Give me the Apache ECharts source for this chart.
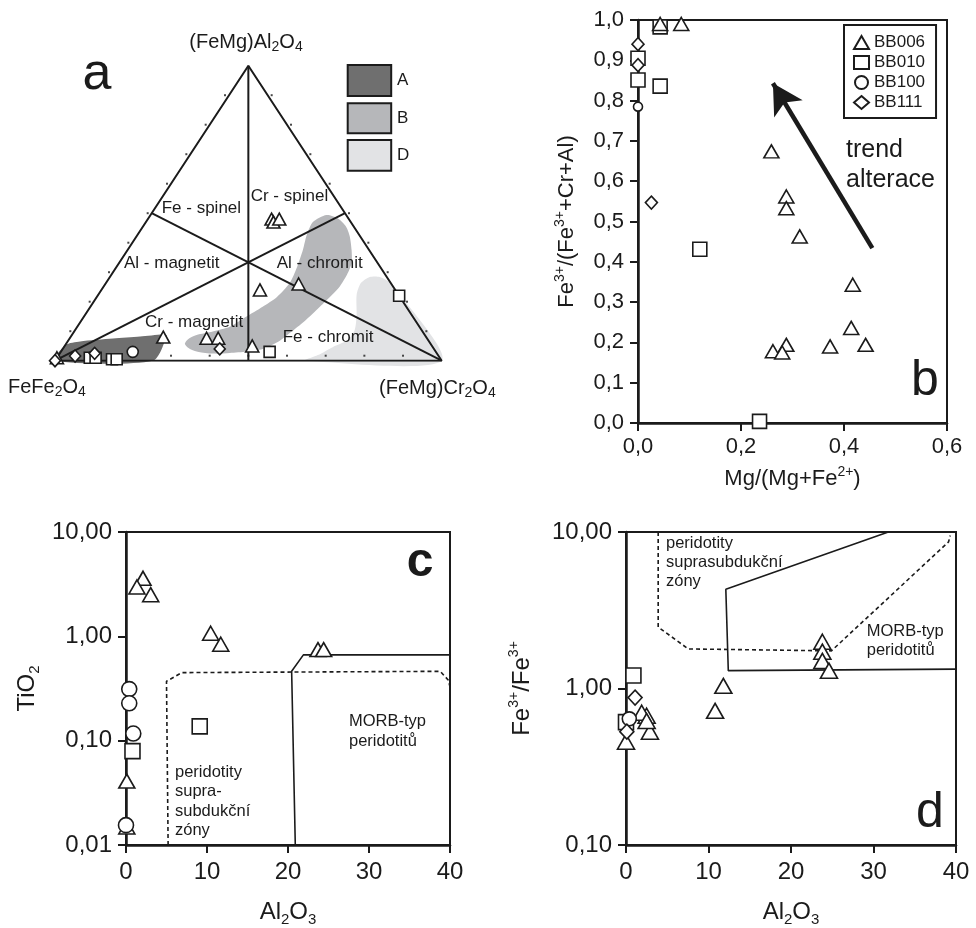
<!DOCTYPE html>
<html><head><meta charset="utf-8">
<script src="https://cdn.jsdelivr.net/npm/echarts/dist/echarts.min.js"></script>
<style>html,body{margin:0;padding:0;background:#fff}#chart{width:976px;height:928px}</style>
</head><body><div id="chart"></div>
<script>
const FONT = '"Liberation Sans", Arial, Helvetica, sans-serif';
const INK = '#1b1b1b';

// ---------- Panel a: ternary compositions [Al, Cr, Fe3+] ----------
const aBB006 = [[0.48,0.32,0.20],[0.47,0.33,0.20],[0.48,0.34,0.18],[0.24,0.41,0.35],[0.26,0.50,0.24],[0.08,0.24,0.68],[0.076,0.354,0.57],[0.076,0.384,0.54],[0.05,0.485,0.465],[0.01,0,0.99]];
const aBB010 = [[0.22,0.78,0],[0.03,0.54,0.43],[0.01,0.085,0.905],[0.01,0.10,0.89],[0.005,0.145,0.85],[0.005,0.157,0.838]];
const aBB100 = [[0.03,0.186,0.784]];
const aBB111 = [[0.016,0.044,0.94],[0.025,0.09,0.885],[0.04,0.406,0.554],[0,0,1]];
// field outlines in the triangle frame (x along base, y = Al)
const regionA = [[0,0],[0.027,0.053],[0.065,0.065],[0.150,0.075],[0.220,0.082],[0.279,0.089],[0.289,0.085],[0.253,0]];
const regionB = [[0.702,0.494],[0.667,0.470],[0.651,0.426],[0.641,0.375],[0.625,0.314],[0.607,0.263],[0.574,0.216],[0.537,0.183],[0.493,0.148],[0.452,0.115],[0.408,0.099],[0.366,0.087],[0.344,0.073],[0.336,0.057],[0.349,0.040],[0.375,0.029],[0.413,0.024],[0.452,0.026],[0.496,0.031],[0.537,0.040],[0.576,0.063],[0.607,0.094],[0.646,0.135],[0.685,0.183],[0.716,0.223],[0.736,0.251],[0.755,0.291],[0.767,0.331],[0.767,0.375],[0.762,0.423],[0.752,0.456],[0.731,0.483]];
const regionD = [[0.646,0],[0.680,0.019],[0.718,0.046],[0.757,0.070],[0.775,0.104],[0.780,0.155],[0.780,0.223],[0.791,0.263],[0.814,0.284],[0.840,0.284],[0.867,0.263],[1,0]];
const regionNames = ['A','B','D'];
const regionColors = ['#6f6f6f','#b6b7ba','#e2e3e5'];

// ---------- Panel b: Mg/(Mg+Fe2+) vs Fe3+/(Fe3+ + Cr + Al) ----------
const bBB006x = [0.043,0.084,0.259,0.288,0.288,0.314,0.417,0.414,0.442,0.373,0.288,0.262,0.280];
const bBB006y = [0.99,0.99,0.674,0.562,0.533,0.463,0.343,0.236,0.194,0.19,0.194,0.178,0.175];
const bBB010x = [0.043,0,0,0.043,0.12,0.236];
const bBB010y = [0.983,0.905,0.851,0.836,0.431,0.004];
const bBB100x = [0];
const bBB100y = [0.785];
const bBB111x = [0,0,0.026];
const bBB111y = [0.94,0.888,0.547];
const trendArrow = [[0.455,0.434],[0.262,0.843]];

// ---------- Panel c: Al2O3 vs TiO2 ----------
const cBB006x = [2.1,1.35,3.05,10.45,11.7,23.7,24.4,0.1,0.1];
const cBB006y = [3.6,2.97,2.51,1.07,0.84,0.746,0.746,0.041,0.0149];
const cBB010x = [0.8,9.1];
const cBB010y = [0.0794,0.137];
const cBB100x = [0.4,0.4,0.9,0];
const cBB100y = [0.312,0.228,0.117,0.0155];
const cSSZ = [[5.2,0.01],[5.0,0.371],[6.9,0.449],[38.8,0.462],[39.8,0.38],[40,0.328]];
const cMORB = [[20.9,0.01],[20.45,0.462],[21.9,0.664],[40,0.664]];

// ---------- Panel d: Al2O3 vs Fe3+/Fe3+ ----------
const dBB006x = [23.8,23.8,23.8,24.6,11.8,10.8,2.5,2.9,1.9,0,2.5];
const dBB006y = [1.99,1.72,1.5,1.30,1.04,0.72,0.67,0.53,0.70,0.457,0.62];
const dBB010x = [0.9,0];
const dBB010y = [1.21,0.61];
const dBB100x = [0.4];
const dBB100y = [0.64];
const dBB111x = [1.1,0.1];
const dBB111y = [0.875,0.53];
const dSSZ = [[3.9,10],[3.9,2.47],[7.55,1.79],[24.9,1.74],[39.1,8.65],[39.3,9.5]];
const dMORB = [[31.8,10],[12.1,4.3],[12.4,1.30],[40,1.33]];

const samples = ['BB006','BB010','BB100','BB111'];
const symbols = {BB006:'triangle', BB010:'rect', BB100:'circle', BB111:'diamond'};
const sizes = [
  {BB006:[13,12], BB010:[11,11], BB100:11, BB111:[11,12]},
  {BB006:[15,13], BB010:[14,14], BB100:9, BB111:[12,13]},
  {BB006:[16,14], BB010:[15,15], BB100:15, BB111:[14,15]},
  {BB006:[17,15], BB010:[15,15], BB100:14, BB111:[14,15]}
];

function tern(p){ const s=p[0]+p[1]+p[2]; const al=p[0]/s, cr=p[1]/s; return [cr+al/2, al]; }
function zip(xs, ys){ return xs.map((x,i)=>[x, ys[i]]); }

function scatter(name, g, data){
  return {type:'scatter', name, xAxisIndex:g, yAxisIndex:g, data, symbol:symbols[name],
    symbolSize:sizes[g][name], clip:false, silent:true, z:5,
    itemStyle:{color:'#fff', borderColor:INK, borderWidth:1.6, opacity:1}};
}
function segment(g, data, width, type){
  return {type:'line', xAxisIndex:g, yAxisIndex:g, data, symbol:'none', silent:true, z:3,
    lineStyle:{color:INK, width, type: type||'solid'}};
}

const series = [];
// shaded fields
series.push({type:'custom', xAxisIndex:0, yAxisIndex:0, silent:true, z:1, data:[0,1,2],
  renderItem:(params, api)=>{
    const i = params.dataIndex;
    const pts = [regionA, regionB, regionD][i].map(p=>api.coord(p));
    return {type:'polygon', shape:{points:pts, smooth:0.25}, style:{fill:regionColors[i], stroke:null}};
  }});
// triangle outline and field boundaries
const V_AL=[1,0,0], V_CR=[0,1,0], V_FE=[0,0,1];
series.push(segment(0, [tern(V_FE), tern(V_CR), tern(V_AL), tern(V_FE)], 2));
series.push(segment(0, [tern(V_AL), tern([0,0.5,0.5])], 2));
series.push(segment(0, [tern(V_FE), tern([0.5,0.5,0])], 2));
series.push(segment(0, [tern(V_CR), tern([0.5,0,0.5])], 2));
// tick marks along triangle sides
const tickFr = [0.1,0.2,0.3,0.4,0.5,0.6,0.7,0.8,0.9];
[[t=>[t,0,1-t],[-4,0]],[t=>[0,t,1-t],[0,-5]],[t=>[t,1-t,0],[4,0]]].forEach(([f,off])=>{
  series.push({type:'scatter', xAxisIndex:0, yAxisIndex:0, silent:true, z:2, clip:false,
    data: tickFr.map(t=>tern(f(t))), symbol:'rect', symbolSize:[2,2], symbolOffset:off,
    itemStyle:{color:INK}});
});
// ternary points
series.push(scatter('BB006',0,aBB006.map(tern)));
series.push(scatter('BB010',0,aBB010.map(tern)));
series.push(scatter('BB100',0,aBB100.map(tern)));
series.push(scatter('BB111',0,aBB111.map(tern)));

// panel b
series.push(scatter('BB010',1,zip(bBB010x,bBB010y)));
series.push(scatter('BB100',1,zip(bBB100x,bBB100y)));
series.push(scatter('BB111',1,zip(bBB111x,bBB111y)));
const bTri = scatter('BB006',1,zip(bBB006x,bBB006y));
bTri.markLine = {silent:true, symbol:['none','arrow'], symbolSize:[25,30], animation:false,
  label:{show:false}, lineStyle:{color:INK, width:4.5, type:'solid'},
  data:[[{coord:trendArrow[0]},{coord:trendArrow[1]}]]};
series.push(bTri);

// panel c
series.push(segment(2, cSSZ, 1.6, [4,3]));
series.push(segment(2, cMORB, 1.6));
series.push(scatter('BB006',2,zip(cBB006x,cBB006y)));
series.push(scatter('BB010',2,zip(cBB010x,cBB010y)));
series.push(scatter('BB100',2,zip(cBB100x,cBB100y)));

// panel d
series.push(segment(3, dSSZ, 1.6, [4,3]));
series.push(segment(3, dMORB, 1.6));
series.push(scatter('BB006',3,zip(dBB006x,dBB006y)));
series.push(scatter('BB010',3,zip(dBB010x,dBB010y)));
series.push(scatter('BB100',3,zip(dBB100x,dBB100y)));
series.push(scatter('BB111',3,zip(dBB111x,dBB111y)));

const supRich = {sp:{fontSize:14, lineHeight:14, verticalAlign:'top', fontFamily:FONT, color:INK},
                 sb:{fontSize:15, lineHeight:15, verticalAlign:'bottom', fontFamily:FONT, color:INK}};
function axisBase(g, extra){
  return Object.assign({gridIndex:g, splitLine:{show:false},
    axisLine:{show:true, onZero:false, lineStyle:{color:INK, width:2.5}},
    axisTick:{show:true, inside:false, length:8, lineStyle:{color:INK, width:2}},
    axisLabel:{color:INK, fontFamily:FONT, fontSize:22, margin:14},
    nameLocation:'middle',
    nameTextStyle:{color:INK, fontFamily:FONT, fontSize:22, lineHeight:28, rich:supRich}}, extra);
}
const comma = d => v => v.toFixed(d).replace('.',',');
const bigName = {color:INK, fontFamily:FONT, fontSize:24, lineHeight:30, rich:supRich};

const option = {
  animation:false,
  textStyle:{fontFamily:FONT},
  grid:[
    {left:55, top:65.7, width:386.7, height:295, show:false},
    {left:638, top:20, width:309, height:403, show:true, borderColor:INK, borderWidth:2},
    {left:126, top:532, width:324, height:316, show:true, borderColor:INK, borderWidth:2},
    {left:626, top:532, width:330, height:318, show:true, borderColor:INK, borderWidth:2}
  ],
  xAxis:[
    {gridIndex:0, type:'value', min:0, max:1, show:false},
    axisBase(1,{type:'value', min:0, max:0.6, interval:0.2, axisLabel:{color:INK, fontFamily:FONT, fontSize:22, margin:13, formatter:comma(1)},
      name:'Mg/(Mg+Fe{sp|2+})', nameGap:42}),
    axisBase(2,{type:'value', min:0, max:40, interval:10, axisLabel:{color:INK, fontFamily:FONT, fontSize:24, margin:15},
      name:'Al{sb|2}O{sb|3}', nameGap:52, nameTextStyle:bigName}),
    axisBase(3,{type:'value', min:0, max:40, interval:10, axisLabel:{color:INK, fontFamily:FONT, fontSize:24, margin:15},
      name:'Al{sb|2}O{sb|3}', nameGap:52, nameTextStyle:bigName})
  ],
  yAxis:[
    {gridIndex:0, type:'value', min:0, max:1, show:false},
    axisBase(1,{type:'value', min:0, max:1, interval:0.1, axisLabel:{color:INK, fontFamily:FONT, fontSize:22, margin:14, formatter:comma(1)},
      name:'Fe{sp|3+}/(Fe{sp|3+}+Cr+Al)', nameGap:57}),
    axisBase(2,{type:'log', logBase:10, min:0.01, max:10, axisLabel:{color:INK, fontFamily:FONT, fontSize:24, margin:14, formatter:comma(2)},
      name:'TiO{sb|2}', nameGap:84, nameTextStyle:bigName}),
    axisBase(3,{type:'log', logBase:10, min:0.1, max:10, axisLabel:{color:INK, fontFamily:FONT, fontSize:24, margin:14, formatter:comma(2)},
      name:'Fe{sp|3+}/Fe{sp|3+}', nameGap:89, nameTextStyle:bigName})
  ],
  legend:{left:844, top:25, orient:'vertical', data:samples, itemWidth:15, itemHeight:13, itemGap:3,
    padding:[9,11,7,9], borderColor:INK, borderWidth:2, selectedMode:false,
    textStyle:{color:INK, fontFamily:FONT, fontSize:17}},
  series,
  graphic:[]
};

const G = option.graphic;
function txt(x,y,text,size,extra){
  G.push({type:'text', x, y, silent:true, z:10, style:Object.assign({text, fontSize:size, fontFamily:FONT, fill:INK,
    align:'left', verticalAlign:'middle'}, extra||{})});
}
const sub = {s:{fontSize:14, lineHeight:12, verticalAlign:'bottom', fontFamily:FONT, fill:INK}};
txt(246,42,'(FeMg)Al{s|2}O{s|4}',20,{align:'center', lineHeight:24, rich:sub});
txt(8,387,'FeFe{s|2}O{s|4}',20,{lineHeight:24, rich:sub});
txt(379,388,'(FeMg)Cr{s|2}O{s|4}',20,{lineHeight:24, rich:sub});
txt(97,75,'a',52,{align:'center'});
txt(925,381,'b',50,{align:'center'});
txt(420,563,'c',48,{align:'center', fontWeight:'bold'});
txt(930,813,'d',50,{align:'center'});
[['Fe - spinel',161.7,208.3],['Cr - spinel',250.7,196],['Al - magnetit',124,263.3],['Al - chromit',276.7,263.3],
 ['Cr - magnetit',145,322.7],['Fe - chromit',282.7,337.7]].forEach(([t,x,y])=>txt(x,y,t,17));
// field legend of panel a
[[65,31],[103.3,30],[140,30.7]].forEach(([y,h],i)=>{
  G.push({type:'rect', silent:true, z:10, shape:{x:347.7, y, width:43.5, height:h},
    style:{fill:regionColors[i], stroke:INK, lineWidth:2}});
  txt(397, y+h/2, regionNames[i], 17);
});
txt(846,150,'trend',25);
txt(846,180,'alterace',25);
[['MORB-typ',349,721.7],['peridotitů',349,741],['peridotity',175,772.7],['supra-',175,791.7],['subdukční',175,811],['zóny',175,830],
 ['peridotity',666,543.3],['suprasubdukční',666,562.7],['zóny',666,581.7],['MORB-typ',866.7,631.7],['peridotitů',866.7,650.7]]
 .forEach(([t,x,y])=>txt(x,y,t,16.5));

const chart = echarts.init(document.getElementById('chart'), null, {renderer:'canvas'});
chart.setOption(option);
</script></body></html>
